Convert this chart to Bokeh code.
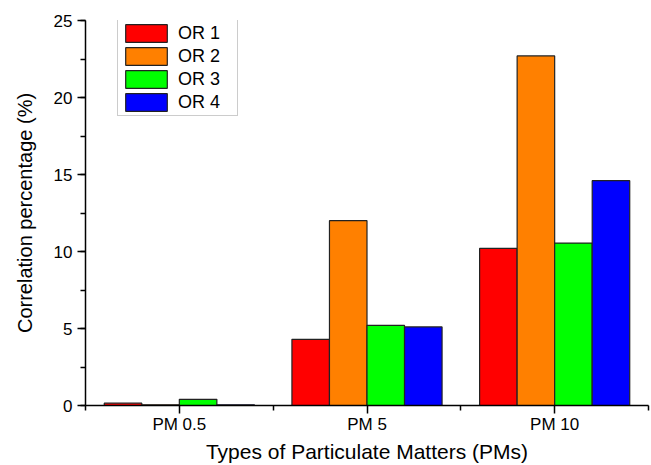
from bokeh.plotting import figure
from bokeh.models import ColumnDataSource, FixedTicker, SingleIntervalTicker, Range1d, Legend, LegendItem
from bokeh.transform import dodge
from bokeh.embed import file_html
from bokeh.resources import INLINE

# ---- data ----
categories = ["PM 0.5", "PM 5", "PM 10"]
series_names = ["OR 1", "OR 2", "OR 3", "OR 4"]
or1 = [0.15, 4.3, 10.2]
or2 = [0.05, 12.0, 22.7]
or3 = [0.4, 5.2, 10.55]
or4 = [0.05, 5.1, 14.6]
colors = ["#FF0000", "#FF8000", "#00FF00", "#0000FF"]
y_ticks_interval = 5

FONT = "Liberation Sans"

src = ColumnDataSource(dict(x=list(range(len(categories))), or1=or1, or2=or2, or3=or3, or4=or4))

p = figure(width=651, height=465, output_backend="svg", toolbar_location=None,
           x_range=Range1d(-0.5, len(categories) - 0.5), y_range=Range1d(0, 25),
           min_border_left=85, min_border_right=3, min_border_top=20, min_border_bottom=60)
p.outline_line_color = None
p.xgrid.grid_line_color = None
p.ygrid.grid_line_color = None
p.background_fill_color = "white"
p.border_fill_color = "white"

offsets = [-0.3, -0.1, 0.1, 0.3]
cols = ["or1", "or2", "or3", "or4"]
renderers = []
for col, off, c in zip(cols, offsets, colors):
    r = p.vbar(x=dodge("x", off), top=col, width=0.2, bottom=0, source=src,
               fill_color=c, line_color="#222222", line_width=1.2)
    renderers.append(r)

# x axis
p.xaxis.ticker = FixedTicker(ticks=list(range(len(categories))),
                             minor_ticks=[i - 0.5 for i in range(len(categories) + 1)])
p.xaxis.major_label_overrides = {i: c for i, c in enumerate(categories)}
p.xaxis.axis_label = "Types of Particulate Matters (PMs)"
p.yaxis.axis_label = "Correlation percentage (%)"
p.yaxis.ticker = SingleIntervalTicker(interval=y_ticks_interval, num_minor_ticks=2)

for ax in (p.xaxis, p.yaxis):
    ax.axis_line_color = "black"
    ax.axis_line_width = 1.5
    ax.major_tick_line_color = "black"
    ax.minor_tick_line_color = "black"
    ax.major_tick_line_width = 1.5
    ax.minor_tick_line_width = 1.5
    ax.major_tick_out = 8
    ax.major_tick_in = 0
    ax.minor_tick_out = 5
    ax.minor_tick_in = 0
    ax.major_label_text_font = FONT
    ax.major_label_text_color = "black"
    ax.axis_label_text_font = FONT
    ax.axis_label_text_font_style = "normal"
    ax.axis_label_text_color = "black"

p.xaxis.major_label_text_font_size = "17px"
p.xaxis.major_label_standoff = 1
p.xaxis.axis_label_text_font_size = "21px"
p.xaxis.axis_label_standoff = 3
p.yaxis.major_label_text_font_size = "17px"
p.yaxis.major_label_standoff = 5
p.yaxis.axis_label_text_font_size = "20px"
p.yaxis.axis_label_standoff = 15

legend = Legend(items=[LegendItem(label=n, renderers=[r]) for n, r in zip(series_names, renderers)],
                location=(32, 289), orientation="vertical",
                glyph_width=52, glyph_height=22, label_height=22, label_width=57,
                spacing=1, padding=2, margin=0, label_standoff=6,
                label_text_font=FONT, label_text_font_size="18px",
                label_text_color="black", border_line_color="#999999", border_line_width=1.5,
                background_fill_color="white", background_fill_alpha=1.0)
p.add_layout(legend, "center")

open("out.html", "w").write(file_html(p, INLINE))
